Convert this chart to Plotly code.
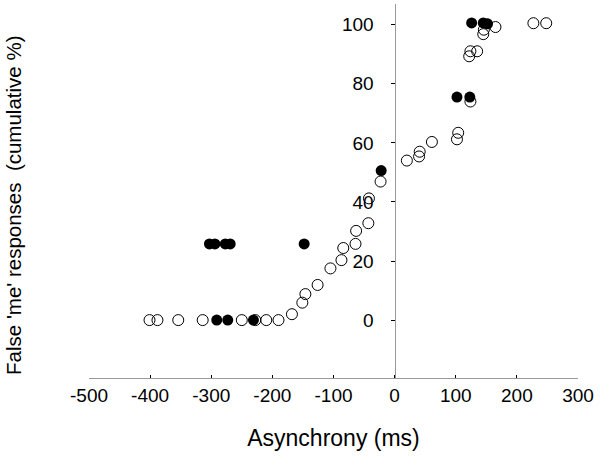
import plotly.graph_objects as go

# Open circles (all responses)
open_x = [-401, -388, -354, -314, -250, -228, -210, -190, -168, -151, -146, -126,
          -105, -87, -84, -64, -63, -43, -42, -23,
          20, 40, 41, 61, 102, 104, 122, 124, 124, 135, 145, 146, 165, 227, 248]
open_y = [0, 0, 0, 0, 0, 0, 0, 0, 2, 5.9, 8.8, 11.9,
          17.5, 20.3, 24.4, 25.8, 30.2, 32.8, 41.2, 46.9,
          54, 55.4, 57, 60.3, 61.2, 63.4, 89.3, 91, 74, 91, 96.8, 98.3, 99.2, 100.5, 100.5]

# Filled circles (subset)
fill_x = [-291, -273, -231, -303, -294, -277, -269, -148, -22, 102, 123, 126, 145, 152]
fill_y = [0, 0, 0, 25.8, 25.8, 25.8, 25.8, 25.8, 50.6, 75.5, 75.5, 100.6, 100.6, 100.3]

x_ticks = [-500, -400, -300, -200, -100, 0, 100, 200, 300]
y_ticks = [0, 20, 40, 60, 80, 100]

FONT = "Liberation Sans, Arial, sans-serif"

fig = go.Figure()
fig.add_trace(go.Scatter(
    x=open_x, y=open_y, mode="markers",
    marker=dict(symbol="circle-open", size=11, color="black", line=dict(width=1)),
    showlegend=False, cliponaxis=False))
fig.add_trace(go.Scatter(
    x=fill_x, y=fill_y, mode="markers",
    marker=dict(symbol="circle", size=11, color="black", line=dict(width=0)),
    showlegend=False, cliponaxis=False))

x0, x1 = 89.3, 578.3
ypos = (395.7 - x0) / (x1 - x0)

fig.update_layout(
    width=601, height=469,
    margin=dict(l=x0, r=601 - x1, t=4, b=469 - 377.7),
    paper_bgcolor="white", plot_bgcolor="white",
    font=dict(family=FONT, size=19, color="black"),
    xaxis=dict(
        range=[-500, 300], tickvals=x_ticks, ticktext=[str(v) for v in x_ticks],
        showgrid=False, zeroline=False,
        showline=True, linecolor="#9a9a9a", linewidth=1,
        ticks="inside", ticklen=3, tickcolor="black", tickwidth=1,
        title=dict(text="Asynchrony (ms)", font=dict(size=23), standoff=25),
        tickfont=dict(size=19), automargin=False,
    ),
    yaxis=dict(
        range=[-19.6, 107], tickvals=y_ticks, ticktext=[str(v) for v in y_ticks],
        anchor="free", position=ypos,
        showgrid=False, zeroline=False,
        showline=True, linecolor="#9a9a9a", linewidth=1,
        ticks="outside", ticklen=4, tickcolor="black", tickwidth=1,
        ticklabelstandoff=14,
        tickfont=dict(size=19), automargin=False,
    ),
    annotations=[dict(
        text="False 'me' responses  (cumulative %)", textangle=-90,
        xref="paper", yref="paper", x=-0.154, y=0.462, xanchor="center", yanchor="middle",
        showarrow=False, font=dict(size=20.5, family=FONT))],
)

fig.write_html("out.html", config={"displayModeBar": False},
               post_script="document.body.style.margin='0';")
